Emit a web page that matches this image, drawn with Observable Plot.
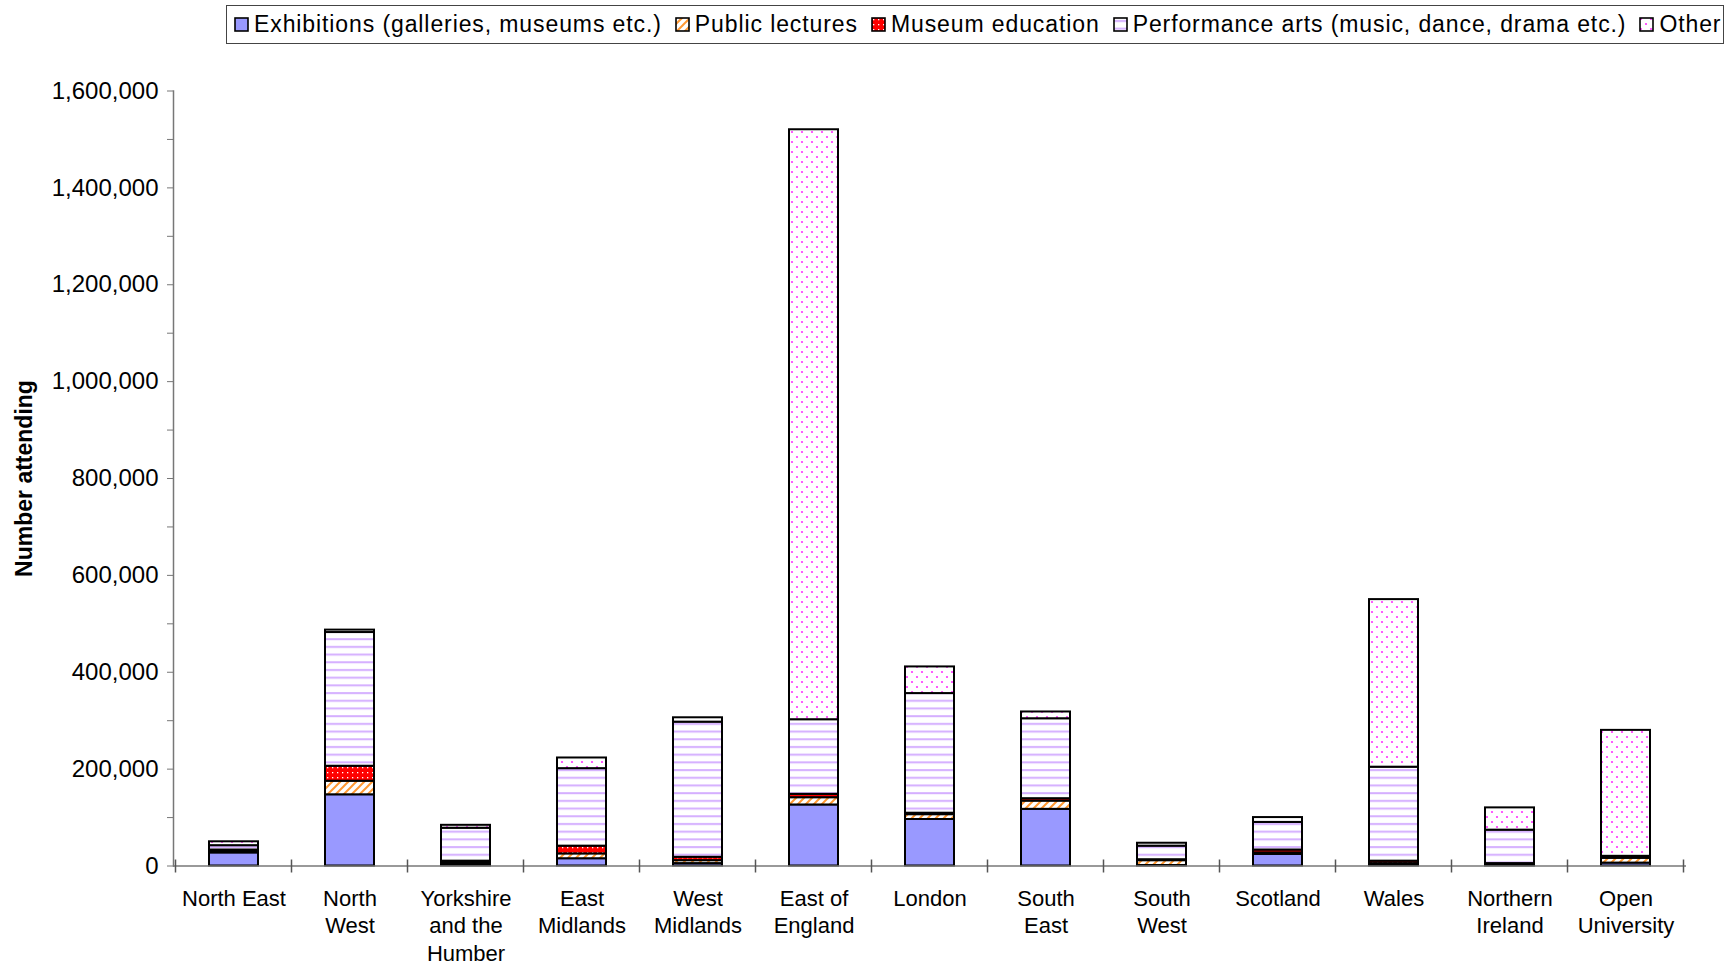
<!DOCTYPE html>
<html>
<head>
<meta charset="utf-8">
<script src="https://cdn.jsdelivr.net/npm/d3@7"></script>
<script src="https://cdn.jsdelivr.net/npm/@observablehq/plot@0.6"></script>
<style>
  html, body { margin: 0; padding: 0; background: #fff; }
  body { width: 1731px; height: 968px; overflow: hidden; font-family: Arial, "Liberation Sans", sans-serif; }
  #legendWrap { position: relative; width: 1731px; height: 50px; }
  #legend { position: absolute; left: 226px; top: 5px; width: 1498px; height: 39px; border: 1px solid #444;
            display: flex; align-items: center; font-size: 23px; letter-spacing: 0.9px; color: #000; box-sizing: border-box; padding-left: 7px; white-space: nowrap; }
  .item { display: flex; align-items: center; margin-right: 13px; }
  .item svg { margin-right: 5px; }
</style>
</head>
<body>
<div id="legendWrap"><div id="legend"></div></div>
<div id="chart"></div>
<script>
// ---- data ----
const regions = ["North East","North West","Yorkshire and the Humber","East Midlands","West Midlands","East of England","London","South East","South West","Scotland","Wales","Northern Ireland","Open University"];
const regionLabels = ["North East","North\nWest","Yorkshire\nand the\nHumber","East\nMidlands","West\nMidlands","East of\nEngland","London","South\nEast","South\nWest","Scotland","Wales","Northern\nIreland","Open\nUniversity"];
const seriesNames = ["Exhibitions (galleries, museums etc.)","Public lectures","Museum education","Performance arts (music, dance, drama etc.)","Other"];
const exhibitions = [27000,147000,3000,15000,5000,126000,96000,117000,1000,24000,2000,1000,6000];
const publicLectures = [2000,28000,3000,10000,6000,15000,10000,17000,10000,3000,3000,2000,10000];
const museumEducation = [4000,31000,4000,16000,7000,7000,3000,5000,2000,6000,5000,2000,1000];
const performanceArts = [9000,276000,68000,160000,279000,154000,247000,165000,28000,57000,194000,69000,3000];
const other = [8000,5000,6000,22000,9000,1218000,55000,14000,6000,10000,346000,46000,260000];
const yTicks = d3.range(0, 1600001, 100000);
const patternIds = ["pExh","pLect","pMus","pPerf","pOther"];

const seriesValues = [exhibitions, publicLectures, museumEducation, performanceArts, other];
const rows = [];
seriesNames.forEach((s, si) => regions.forEach((r, ri) => rows.push({region: r, series: s, value: seriesValues[si][ri]})));
const fillOf = Object.fromEntries(seriesNames.map((s, i) => [s, `url(#${patternIds[i]})`]));
const labelOf = Object.fromEntries(regions.map((r, i) => [r, regionLabels[i]]));

const W = 1731, H = 918;
const plot = Plot.plot({
  width: W, height: H,
  marginLeft: 173, marginRight: 45, marginTop: 40.5, marginBottom: 102.5,
  style: {fontFamily: 'Arial, "Liberation Sans", sans-serif', background: "#fff", color: "#000"},
  x: {domain: regions, paddingInner: 0.58, paddingOuter: 0.29},
  y: {domain: [0, 1600000]},
  color: {type: "identity"},
  marks: [
    Plot.axisY({ticks: yTicks, tickFormat: d => d % 200000 === 0 ? d3.format(",")(d) : "", tickSize: 6, tickPadding: 9,
                fontSize: 24, stroke: "#777", label: null}),
    Plot.axisX({tickSize: 0, tickPadding: 20, fontSize: 22, lineHeight: 1.25, tickFormat: d => labelOf[d], label: null}),
    Plot.barY(rows, Plot.stackY({x: "region", y: "value", fill: d => fillOf[d.series], stroke: "#000", strokeWidth: 2,
      order: seriesNames})),
    Plot.ruleY([0], {stroke: "#777", strokeWidth: 1.5}),
    Plot.frame({anchor: "left", stroke: "#777", strokeWidth: 1.5}),
    Plot.text(["Number attending"], {frameAnchor: "left", rotate: -90, dx: -149, fontSize: 23, fontWeight: "bold", textAnchor: "middle", letterSpacing: 0.3})
  ]
});
document.getElementById("chart").appendChild(plot);

// x-axis boundary ticks from Plot's band scale
const xs = plot.scale("x");
const yS = plot.scale("y");
const y0 = yS.apply(0);
const half = xs.step / 2;
const bounds = regions.map(r => xs.apply(r) + xs.bandwidth / 2 - half).concat([xs.apply(regions[regions.length - 1]) + xs.bandwidth / 2 + half]);
const svg = d3.select(plot);
svg.append("g").selectAll("line").data(bounds).join("line")
  .attr("x1", d => d).attr("x2", d => d).attr("y1", y0 - 6).attr("y2", y0 + 7)
  .attr("stroke", "#555").attr("stroke-width", 1.5);

// patterns
const defs = svg.insert("defs", ":first-child");
function makePatterns(defs) {
  const p0 = defs.append("pattern").attr("id", "pExh").attr("patternUnits", "userSpaceOnUse").attr("width", 4).attr("height", 4);
  p0.append("rect").attr("width", 4).attr("height", 4).attr("fill", "#9999FF");
  const p1 = defs.append("pattern").attr("id", "pLect").attr("patternUnits", "userSpaceOnUse").attr("width", 8).attr("height", 8);
  p1.append("rect").attr("width", 8).attr("height", 8).attr("fill", "#fff");
  p1.append("path").attr("d", "M-2,10 L10,-2 M-2,2 L2,-2 M6,10 L10,6").attr("stroke", "#FF9933").attr("stroke-width", 2);
  const p2 = defs.append("pattern").attr("id", "pMus").attr("patternUnits", "userSpaceOnUse").attr("width", 5).attr("height", 5);
  p2.append("rect").attr("width", 5).attr("height", 5).attr("fill", "#FF0000");
  p2.append("rect").attr("x", 2).attr("y", 2).attr("width", 1.3).attr("height", 1.3).attr("fill", "#fff");
  const p3 = defs.append("pattern").attr("id", "pPerf").attr("patternUnits", "userSpaceOnUse").attr("width", 8).attr("height", 7.7);
  p3.append("rect").attr("width", 8).attr("height", 7.7).attr("fill", "#fff");
  p3.append("rect").attr("y", 3).attr("width", 8).attr("height", 2).attr("fill", "#D5AFFF");
  const p4 = defs.append("pattern").attr("id", "pOther").attr("patternUnits", "userSpaceOnUse").attr("width", 10).attr("height", 10);
  p4.append("rect").attr("width", 10).attr("height", 10).attr("fill", "#fff");
  p4.append("circle").attr("cx", 2).attr("cy", 2).attr("r", 1.1).attr("fill", "#FF33FF");
  p4.append("circle").attr("cx", 7).attr("cy", 7).attr("r", 1.1).attr("fill", "#FF33FF");
}
makePatterns(defs);

// legend
const legend = d3.select("#legend");
seriesNames.forEach((s, i) => {
  const it = legend.append("div").attr("class", "item");
  const sw = it.append("svg").attr("width", 15).attr("height", 15);
  sw.append("rect").attr("x", 1).attr("y", 1).attr("width", 13).attr("height", 13)
    .attr("fill", `url(#${patternIds[i]})`).attr("stroke", "#000").attr("stroke-width", 1.6);
  it.append("span").text(s);
});
</script>
</body>
</html>
